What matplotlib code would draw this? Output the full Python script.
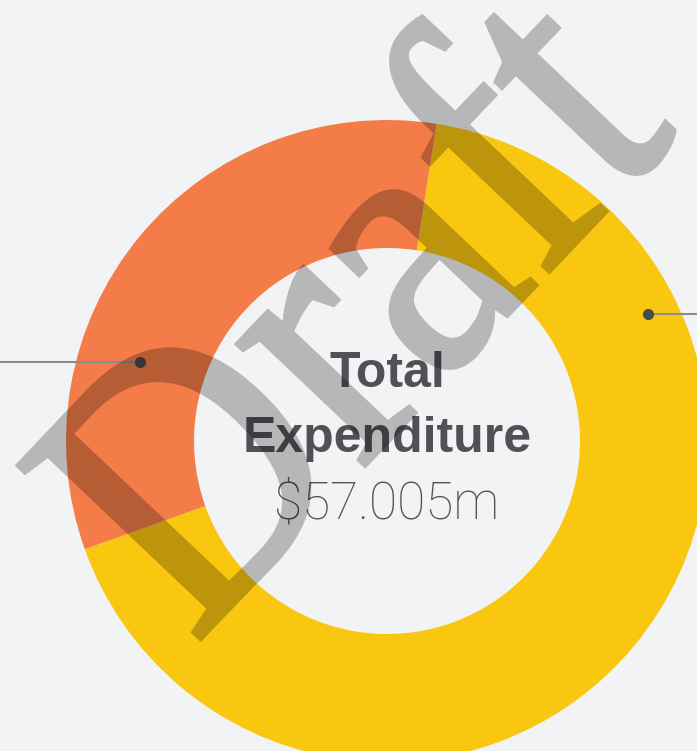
import matplotlib
matplotlib.use("Agg")
import numpy as np
import matplotlib.pyplot as plt
from matplotlib.textpath import TextPath
from matplotlib.patches import PathPatch
from matplotlib.font_manager import FontProperties
from matplotlib.transforms import Affine2D
from matplotlib.backends.backend_agg import FigureCanvasAgg

# data
categories = ["Category A", "Category B"]
values = [38.23, 18.775]  # $m
colors = ["#FAC710", "#F47C48"]
total_label = "$57.005m"
title_lines = ["Total", "Expenditure"]
watermark = "Draft"

W, H = 697, 751
BG = "#F2F3F5"


def watermark_mask():
    """Render the watermark glyphs (slightly emboldened) into an opaque mask."""
    f2 = plt.figure(figsize=(W / 100, H / 100), dpi=100)
    FigureCanvasAgg(f2)
    a2 = f2.add_axes([0, 0, 1, 1])
    a2.set_xlim(0, W)
    a2.set_ylim(0, H)
    a2.axis("off")
    fp = FontProperties(family="Liberation Serif")
    tp = TextPath((0, 0), watermark, size=385, prop=fp)
    tr = Affine2D().scale(0.87, 1.0).rotate_deg(46.5).translate(194, H - 646)
    a2.add_patch(PathPatch(tr.transform_path(tp), facecolor="black",
                           edgecolor="black", linewidth=3.2))
    f2.canvas.draw()
    buf = np.asarray(f2.canvas.buffer_rgba())[:, :, 0].astype(float) / 255.0
    plt.close(f2)
    return 1.0 - buf


fig = plt.figure(figsize=(W / 100, H / 100), dpi=100)
fig.patch.set_facecolor(BG)
ax = fig.add_axes([0, 0, 1, 1])
ax.set_facecolor(BG)

cx, cy = 387, H - 441
ax.pie(values, colors=colors, startangle=199.7, counterclock=True,
       radius=321, center=(cx, cy),
       wedgeprops=dict(width=128, linewidth=0))

# connector lines
ax.plot([0, 140], [H - 362, H - 362], color="#8C8C8C", lw=1.5, zorder=3)
ax.plot([140], [H - 362], "o", color="#474A4F", ms=7, zorder=4)
ax.plot([648, W], [H - 314, H - 314], color="#8C8C8C", lw=1.5, zorder=3)
ax.plot([648], [H - 314], "o", color="#474A4F", ms=7, zorder=4)

# centre text
ax.text(cx, H - 387, title_lines[0], ha="center", va="baseline",
        fontsize=36, fontweight="bold", family="Liberation Sans", color="#505155", zorder=5)
ax.text(cx, H - 452, title_lines[1], ha="center", va="baseline",
        fontsize=36, fontweight="bold", family="Liberation Sans", color="#505155", zorder=5)
ax.text(cx, H - 519, total_label, ha="center", va="baseline",
        fontsize=37, fontweight="light", family="Roboto", color="#4F5155", zorder=5)

# watermark overlay
mask = watermark_mask()
rgba = np.zeros(mask.shape + (4,))
rgba[..., 3] = 0.25 * mask
ax.imshow(rgba, extent=(0, W, 0, H), origin="upper", interpolation="nearest",
          zorder=6)

ax.set_xlim(0, W)
ax.set_ylim(0, H)
ax.set_aspect("auto")
ax.axis("off")
fig.savefig("out.png", dpi=100, facecolor=fig.get_facecolor())
